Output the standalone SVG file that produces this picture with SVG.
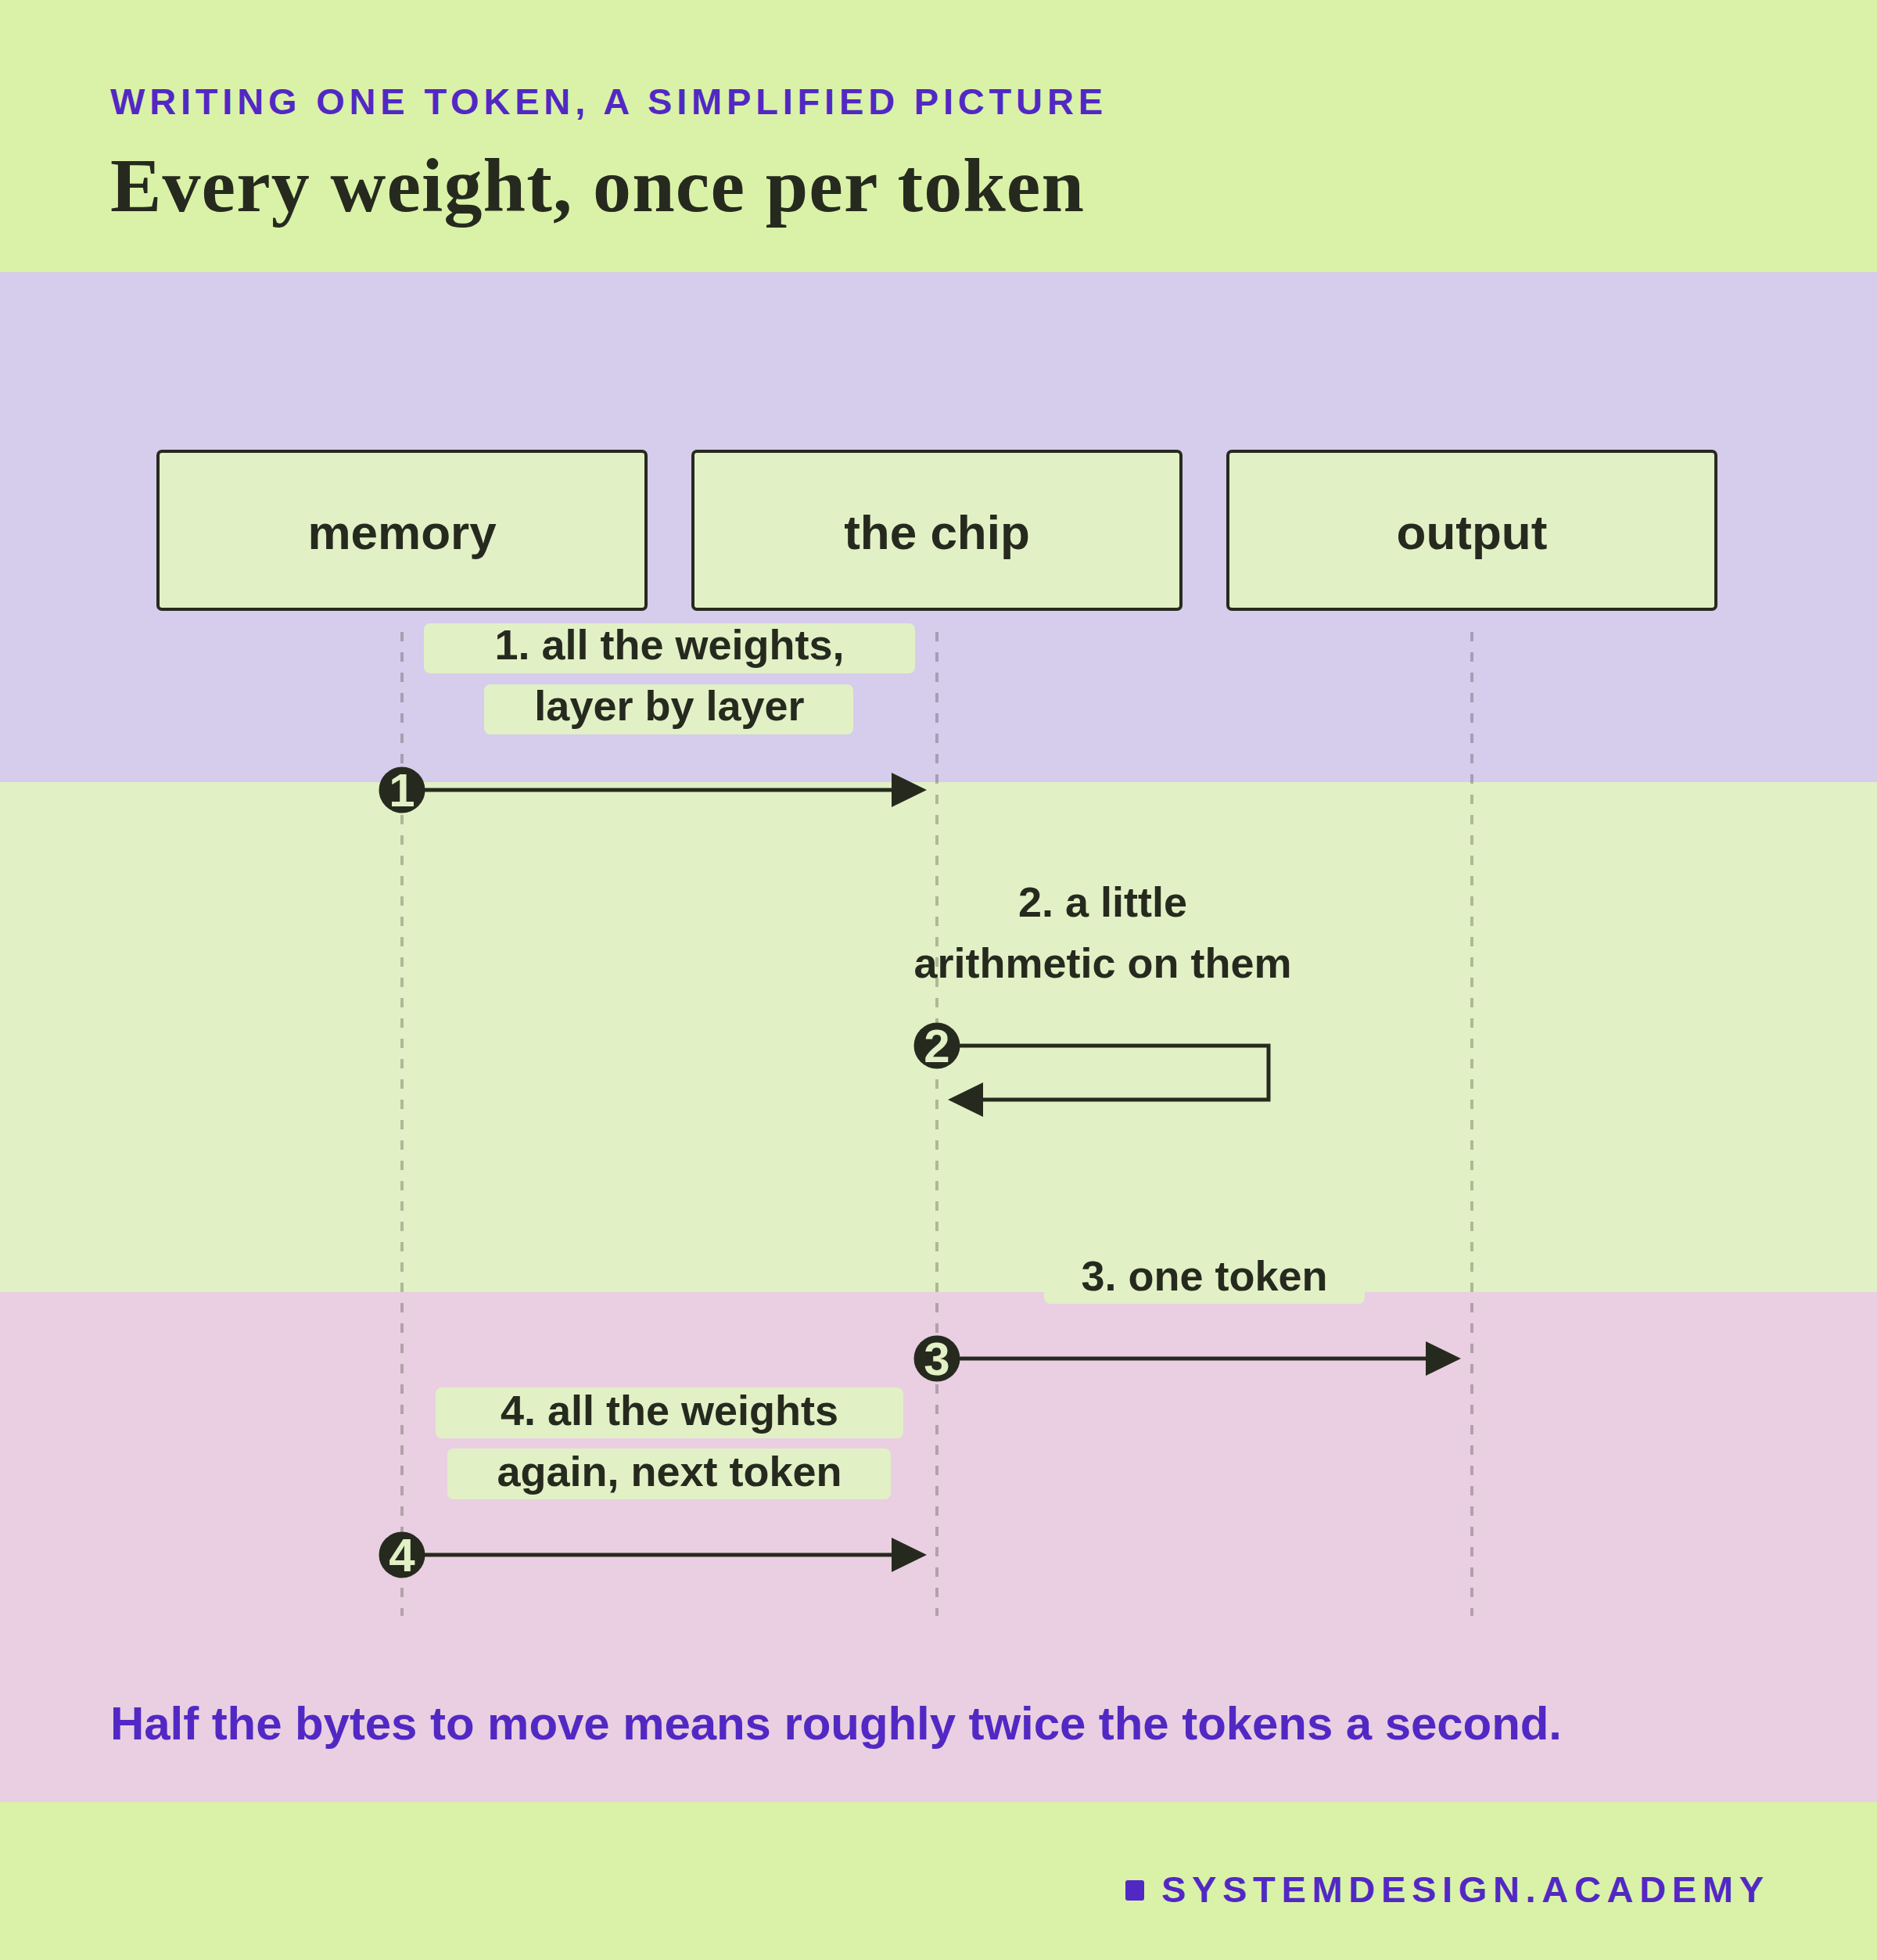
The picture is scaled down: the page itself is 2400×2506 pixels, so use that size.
<svg xmlns="http://www.w3.org/2000/svg" width="2400" height="2506" viewBox="0 0 2400 2506">
<defs>
<style>
.sans{font-family:"Liberation Sans",Arial,sans-serif;font-weight:bold}
.node rect{fill:#E2F0C6;stroke:#262A1E;stroke-width:4}
.node text{font-family:"Liberation Sans",Arial,sans-serif;font-weight:bold;font-size:62px;fill:#262A1E;text-anchor:middle}
.lbl{font-family:"Liberation Sans",Arial,sans-serif;font-weight:bold;font-size:54px;fill:#262A1E;text-anchor:middle}
.lblbox{fill:#E2F0C6}
.life{stroke:#262A1E;stroke-opacity:0.28;stroke-width:4;stroke-dasharray:12 14;fill:none}
.msg{stroke:#262A1E;stroke-width:5;fill:none}
.dot{fill:#262A1E}
.num{font-family:"Liberation Sans",Arial,sans-serif;font-weight:bold;font-size:60px;fill:#E2F0C6;stroke:#262A1E;stroke-width:2;paint-order:stroke;text-anchor:middle}
</style>
<marker id="ah" markerUnits="userSpaceOnUse" markerWidth="46" markerHeight="46" refX="0" refY="22" orient="auto" viewBox="0 0 46 44">
<path d="M0,0 L45,22 L0,44 Z" fill="#262A1E"/>
</marker>
</defs>
<rect x="0" y="0" width="2400" height="348" fill="#DAF2A8"/>
<rect x="0" y="348" width="2400" height="652" fill="#D6CCEC"/>
<rect x="0" y="1000" width="2400" height="652" fill="#E2F0C6"/>
<rect x="0" y="1652" width="2400" height="652" fill="#E9CFE1"/>
<rect x="0" y="2304" width="2400" height="202" fill="#DAF2A8"/>
<text class="sans" x="141" y="146" font-size="47" fill="#5228C4" textLength="1269" lengthAdjust="spacing">WRITING ONE TOKEN, A SIMPLIFIED PICTURE</text>
<text x="141" y="270" font-family="'Liberation Serif','Times New Roman',serif" font-weight="bold" font-size="98" fill="#262A1E" textLength="1245" lengthAdjust="spacing">Every weight, once per token</text>
<g id="lifelines">
<line class="life" x1="514" y1="808" x2="514" y2="2066"/>
<line class="life" x1="1198" y1="808" x2="1198" y2="2066"/>
<line class="life" x1="1882" y1="808" x2="1882" y2="2066"/>
</g>
<g id="node-memory" class="node"><rect x="202" y="577" width="624" height="202" rx="5"/><text x="514" y="702">memory</text></g>
<g id="node-chip" class="node"><rect x="886" y="577" width="624" height="202" rx="5"/><text x="1198" y="702">the chip</text></g>
<g id="node-output" class="node"><rect x="1570" y="577" width="624" height="202" rx="5"/><text x="1882" y="702">output</text></g>
<g id="labels">
<rect class="lblbox" x="542" y="797" width="628" height="64" rx="8"/>
<text class="lbl" x="856" y="843">1. all the weights,</text>
<rect class="lblbox" x="619" y="875" width="472" height="64" rx="8"/>
<text class="lbl" x="856" y="921">layer by layer</text>
<text class="lbl" x="1410" y="1172">2. a little</text>
<text class="lbl" x="1410" y="1250">arithmetic on them</text>
<rect class="lblbox" x="1335" y="1603" width="410" height="64" rx="8"/>
<text class="lbl" x="1540" y="1650">3. one token</text>
<rect class="lblbox" x="557" y="1774" width="598" height="65" rx="8"/>
<text class="lbl" x="856" y="1822">4. all the weights</text>
<rect class="lblbox" x="572" y="1852" width="567" height="65" rx="8"/>
<text class="lbl" x="856" y="1900">again, next token</text>
</g>
<g id="connectors">
<path class="msg" d="M543,1010 H1140" marker-end="url(#ah)"/>
<path class="msg" d="M1227,1337 H1622 V1406 H1257" marker-end="url(#ah)"/>
<path class="msg" d="M1227,1737 H1823" marker-end="url(#ah)"/>
<path class="msg" d="M543,1988 H1140" marker-end="url(#ah)"/>
<circle class="dot" cx="514" cy="1010" r="29.5"/>
<text class="num" x="514" y="1031">1</text>
<circle class="dot" cx="1198" cy="1337" r="29.5"/>
<text class="num" x="1198" y="1358">2</text>
<circle class="dot" cx="1198" cy="1737" r="29.5"/>
<text class="num" x="1198" y="1758">3</text>
<circle class="dot" cx="514" cy="1988" r="29.5"/>
<text class="num" x="514" y="2009">4</text>
</g>
<text class="sans" x="141" y="2224" font-size="60" fill="#5228C4" textLength="1856" lengthAdjust="spacing">Half the bytes to move means roughly twice the tokens a second.</text>
<rect x="1439" y="2404" width="24" height="26" rx="3" fill="#5228C4"/>
<text class="sans" x="1485" y="2432" font-size="47" fill="#5228C4" textLength="770" lengthAdjust="spacing">SYSTEMDESIGN.ACADEMY</text>
</svg>
